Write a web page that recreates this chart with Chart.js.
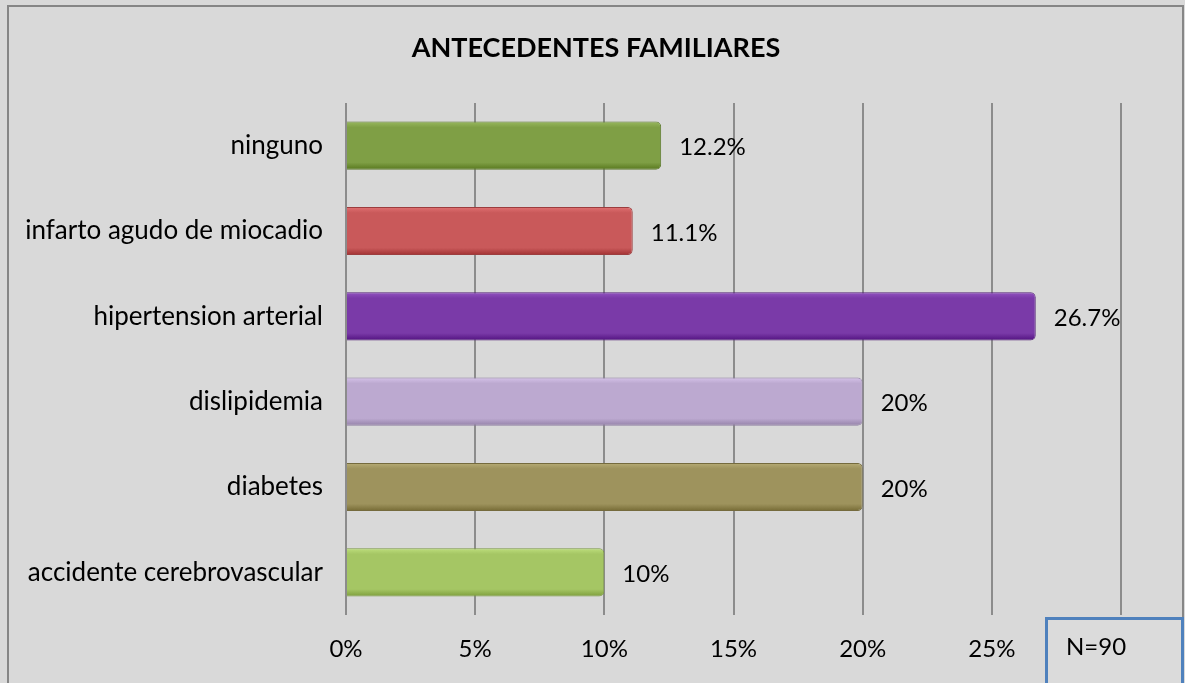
<!DOCTYPE html>
<html lang="es">
<head>
  <meta charset="UTF-8">
  <title>Antecedentes familiares</title>
  <script src="https://cdn.jsdelivr.net/npm/chart.js"></script>
  <style>
    html, body { margin: 0; padding: 0; background: #d9d9d9; }
    #chartContainer { width: 1185px; height: 683px; }
  </style>
</head>
<body>
<div id="chartContainer">
  <canvas id="antecedentesChart"></canvas>
</div>

<script>
// data
const titulo = 'ANTECEDENTES FAMILIARES';
const categorias = ['ninguno', 'infarto agudo de miocadio', 'hipertension arterial', 'dislipidemia', 'diabetes', 'accidente cerebrovascular'];
const porcentajes = [12.2, 11.1, 26.7, 20, 20, 10];
const etiquetas = ['12.2%', '11.1%', '26.7%', '20%', '20%', '10%'];
const ticksX = [0, 5, 10, 15, 20, 25, 30];
const colores = ['#7f9f45', '#c9595a', '#7a3aa8', '#bca9d0', '#9e935d', '#a5c664'];
const bordes = ['#5d7a2e', '#9c3d3e', '#55237a', '#8f7fa3', '#756b3e', '#7d9a45'];

const FONT = 'Lato, "Open Sans", sans-serif';

function shade(hex, amt) {
  const n = parseInt(hex.slice(1), 16);
  let r = (n >> 16) & 255, g = (n >> 8) & 255, b = n & 255;
  r = Math.max(0, Math.min(255, r + amt));
  g = Math.max(0, Math.min(255, g + amt));
  b = Math.max(0, Math.min(255, b + amt));
  return 'rgb(' + r + ',' + g + ',' + b + ')';
}

// gradient for each bar so it looks a bit raised like the original
function barFill(ctx) {
  const chart = ctx.chart;
  const base = colores[ctx.dataIndex];
  if (!chart.chartArea || !chart.scales.y) return base;
  const yc = chart.scales.y.getPixelForValue(ctx.dataIndex);
  const h = 24;
  const g = chart.ctx.createLinearGradient(0, yc - h, 0, yc + h);
  g.addColorStop(0, shade(base, 25));
  g.addColorStop(0.12, base);
  g.addColorStop(0.85, base);
  g.addColorStop(1, shade(base, -40));
  return g;
}

const fondo = {
  id: 'fondo',
  beforeDraw(chart) {
    const c = chart.ctx;
    c.save();
    c.fillStyle = '#d9d9d9';
    c.fillRect(0, 0, chart.width, chart.height);
    c.strokeStyle = '#868686';
    c.lineWidth = 2;
    c.strokeRect(8, 6, chart.width - 10, chart.height + 10);
    // title sits over the middle of the whole frame, not the plot
    c.font = 'bold 27px ' + FONT;
    c.fillStyle = '#000';
    c.textAlign = 'center';
    c.textBaseline = 'middle';
    c.fillText(titulo, 596, 48);
    c.restore();
  }
};

const valores = {
  id: 'valores',
  afterDatasetsDraw(chart) {
    const c = chart.ctx;
    const meta = chart.getDatasetMeta(0);
    c.save();
    c.font = '24px ' + FONT;
    c.fillStyle = '#000';
    c.textAlign = 'left';
    c.textBaseline = 'middle';
    meta.data.forEach((bar, i) => {
      c.fillText(etiquetas[i], bar.x + 18, bar.y + 2);
    });
    c.restore();
  }
};

const cajaN = {
  id: 'cajaN',
  afterDraw(chart) {
    const c = chart.ctx;
    c.save();
    c.fillStyle = '#dbdbdb';
    c.fillRect(1046, 618, 136, 70);
    c.strokeStyle = '#4f81bd';
    c.lineWidth = 3;
    c.strokeRect(1046.5, 618.5, 136, 80);
    c.font = '24px ' + FONT;
    c.fillStyle = '#000';
    c.textBaseline = 'middle';
    c.fillText('N=90', 1066, 647);
    c.restore();
  }
};

const ctx = document.getElementById('antecedentesChart').getContext('2d');
new Chart(ctx, {
  type: 'bar',
  data: {
    labels: categorias,
    datasets: [{
      data: porcentajes,
      backgroundColor: barFill,
      borderColor: bordes,
      borderWidth: 1,
      borderSkipped: 'left',
      borderRadius: { topRight: 5, bottomRight: 5 },
      barPercentage: 0.565,
      categoryPercentage: 1
    }]
  },
  options: {
    indexAxis: 'y',
    responsive: true,
    maintainAspectRatio: false,
    animation: false,
    layout: { padding: { left: 10, right: 64, top: 103, bottom: 0 } },
    plugins: {
      legend: { display: false },
      tooltip: { enabled: false },
      title: { display: false }
    },
    scales: {
      x: {
        min: 0,
        max: 30,
        afterBuildTicks(scale) { scale.ticks = ticksX.map(v => ({ value: v })); },
        afterFit(scale) { scale.height = 68; },
        ticks: {
          color: '#000',
          font: { family: FONT, size: 24 },
          padding: 20,
          callback: v => v + '%'
        },
        grid: { color: '#8c8c8c', lineWidth: 2, drawTicks: false },
        border: { display: false }
      },
      y: {
        afterFit(scale) { scale.width = 336; },
        ticks: {
          color: '#000',
          font: { family: FONT, size: 26 },
          padding: 23
        },
        grid: { display: false, drawTicks: false },
        border: { display: false }
      }
    }
  },
  plugins: [fondo, valores, cajaN]
});
</script>
</body>
</html>
